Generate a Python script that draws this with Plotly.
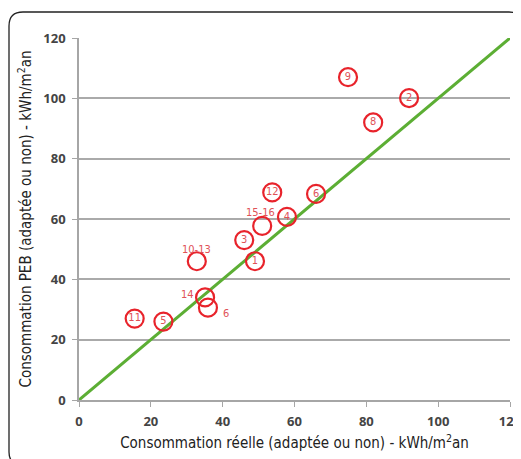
import plotly.graph_objects as go

labels = ["11", "5", "14", "6", "10-13", "1", "3", "15-16", "4", "12", "6", "9", "2", "8"]
reelle = [15.5, 23.5, 35.1, 35.9, 32.8, 49.0, 46.0, 51.0, 57.9, 53.8, 66.0, 74.9, 91.9, 81.9]
peb = [27.0, 26.0, 34.0, 30.6, 46.0, 46.0, 53.0, 57.7, 60.7, 68.8, 68.3, 107.0, 100.1, 92.0]
# label placement: inside the circle, or offset outside (pixels)
label_inside = [True, True, False, False, False, True, True, False, True, True, True, True, True, True]
label_dx = [0, 0, -18, 18, 0, 0, 0, -2, 0, 0, 0, 0, 0, 0]
label_dy = [0, 0, 3, -6, 12, 0, 0, 13, 0, 0, 0, 0, 0, 0]
line_x = [0, 120]
line_y = [0, 120]
ticks = [0, 20, 40, 60, 80, 100, 120]

label_font = dict(color="#e05257", size=11, family="Liberation Sans Narrow, DejaVu Sans Condensed, sans-serif")

fig = go.Figure()
fig.add_trace(go.Scatter(x=line_x, y=line_y, mode="lines",
                         line=dict(color="#5cae34", width=3), hoverinfo="skip", showlegend=False))
fig.add_trace(go.Scatter(
    x=reelle, y=peb, mode="markers+text",
    text=[t if ins else "" for t, ins in zip(labels, label_inside)],
    textposition="middle center",
    marker=dict(size=18, color="rgba(0,0,0,0)", line=dict(color="#e8232b", width=2.2)),
    textfont=label_font, showlegend=False))

for t, x, y, ins, dx, dy in zip(labels, reelle, peb, label_inside, label_dx, label_dy):
    if not ins:
        fig.add_annotation(x=x, y=y, text=t, showarrow=False, xshift=dx, yshift=dy, font=label_font)

axis_font = dict(family="Liberation Sans Narrow, DejaVu Sans Condensed, sans-serif", size=15, color="#222")
tick_font = dict(family="Open Sans, sans-serif", size=13, color="#444", weight="bold")

W, H = 513, 451
L, R, T, B = 71, 11, 30, 59

fig.update_layout(
    width=W, height=H,
    margin=dict(l=L, r=R, t=T, b=B, autoexpand=False),
    paper_bgcolor="white", plot_bgcolor="white",
    xaxis=dict(range=[0, 120], tickvals=ticks, showgrid=False, zeroline=False,
               showline=True, linecolor="#a6a6a6", linewidth=1.5, automargin=False,
               ticks="outside", ticklen=5, tickcolor="#a6a6a6", tickfont=tick_font,
               ticklabelstandoff=4, ticklabeloverflow="allow",
               title=dict(text="Consommation réelle (adaptée ou non) - kWh/m<sup>2</sup>an",
                          font=axis_font, standoff=8)),
    yaxis=dict(range=[0, 120], tickvals=ticks, showgrid=True, gridcolor="#aaaaaa", gridwidth=1.5,
               zeroline=False, showline=True, linecolor="#a6a6a6", linewidth=1.5, automargin=False,
               ticks="outside", ticklen=5, tickcolor="#a6a6a6", tickfont=tick_font,
               ticklabelstandoff=4, ticklabeloverflow="allow",
               title=dict(text="Consommation PEB (adaptée ou non) - kWh/m<sup>2</sup>an",
                          font=axis_font, standoff=8)),
)

# rounded frame (figure pixel -> paper conversion)
pw = W - L - R
ph = H - T - B


def px(xp):
    return (xp - L) / pw


def py(yp):
    return (H - B - yp) / ph


r = 14
x0, y0, x1 = 1, 4, W + 2
yb = 456
path = (f"M {px(x0 + 8)},{py(yb)} Q {px(x0)},{py(yb - 2)} {px(x0)},{py(yb - 12)} "
        f"L {px(x0)},{py(y0 + r)} Q {px(x0)},{py(y0)} {px(x0 + r)},{py(y0)} "
        f"L {px(x1 - r)},{py(y0)} Q {px(x1)},{py(y0)} {px(x1)},{py(y0 + r)} L {px(x1)},{py(yb)}")
fig.add_shape(type="path", path=path, xref="paper", yref="paper",
              line=dict(color="#222", width=1.3), layer="below")

fig.write_html("out.html")
